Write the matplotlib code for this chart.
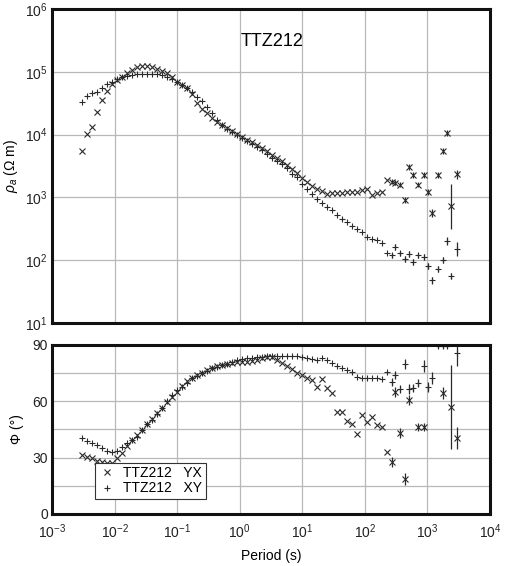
import numpy as np
import matplotlib.pyplot as plt
from matplotlib.ticker import FixedLocator, LogLocator, NullFormatter

plt.rcParams['font.family'] = ['Liberation Sans', 'DejaVu Sans']
plt.rcParams['mathtext.fontset'] = 'custom'
plt.rcParams['mathtext.rm'] = 'Liberation Sans'
plt.rcParams['mathtext.it'] = 'Liberation Sans:italic'

# station TTZ212, log10 period (s) of the densely sampled band
log_period = [-2.52, -2.44, -2.36, -2.28, -2.20, -2.12, -2.04, -1.96, -1.88, -1.80,
              -1.72, -1.64, -1.56, -1.48, -1.40, -1.32, -1.24, -1.16, -1.08, -1.00,
              -0.92, -0.84, -0.76, -0.68, -0.60, -0.52, -0.44, -0.36, -0.28, -0.20,
              -0.12, -0.04, 0.04, 0.12, 0.20, 0.28, 0.36, 0.44, 0.52, 0.60,
              0.68, 0.76, 0.84, 0.92, 1.00, 1.08, 1.16, 1.24, 1.32, 1.40,
              1.48, 1.56, 1.64, 1.72, 1.80, 1.88, 1.96, 2.04, 2.12, 2.20,
              2.28, 2.36]

# log10 apparent resistivity (ohm m)
log_rho_yx = [3.74, 4.01, 4.12, 4.36, 4.55, 4.69, 4.81, 4.87, 4.92, 4.98,
              5.03, 5.08, 5.09, 5.09, 5.08, 5.04, 5.01, 4.98, 4.92, 4.84,
              4.79, 4.74, 4.65, 4.50, 4.41, 4.34, 4.26, 4.20, 4.15, 4.11,
              4.06, 4.01, 3.96, 3.91, 3.88, 3.83, 3.79, 3.74, 3.68, 3.63,
              3.58, 3.52, 3.45, 3.39, 3.31, 3.25, 3.18, 3.13, 3.10, 3.05,
              3.07, 3.07, 3.07, 3.09, 3.09, 3.09, 3.12, 3.13, 3.04, 3.07,
              3.09, 3.28]
log_rho_xy = [4.52, 4.61, 4.66, 4.68, 4.74, 4.81, 4.84, 4.89, 4.92, 4.93,
              4.95, 4.96, 4.96, 4.96, 4.96, 4.96, 4.95, 4.92, 4.89, 4.84,
              4.79, 4.74, 4.68, 4.60, 4.53, 4.44, 4.34, 4.23, 4.15, 4.09,
              4.04, 3.99, 3.95, 3.90, 3.85, 3.80, 3.75, 3.69, 3.63, 3.58,
              3.53, 3.47, 3.38, 3.32, 3.22, 3.13, 3.05, 2.98, 2.91, 2.85,
              2.80, 2.72, 2.66, 2.61, 2.54, 2.50, 2.45, 2.37, 2.34, 2.32,
              2.27, 2.11]

# phase (degrees)
phase_yx = [31.4, 30.4, 29.8, 28.2, 27.7, 27.2, 27.2, 29.8, 32.5, 36.2,
            39.4, 42.1, 44.7, 47.9, 50.6, 53.8, 56.4, 59.6, 62.3, 65.0,
            68.2, 70.8, 72.4, 74.0, 75.1, 76.7, 77.7, 78.8, 79.3,
            79.9, 80.4, 80.9, 80.9, 80.9, 81.5, 82.0, 83.1, 83.6, 83.6,
            82.0, 80.4, 78.8, 77.2, 75.1, 74.0, 72.4, 71.4, 67.6, 71.9,
            67.1, 64.4, 54.3, 54.3, 49.5, 47.9, 42.6, 52.7, 49.0, 51.7,
            47.4, 46.3, 33.0]
phase_xy = [40.5, 38.9, 37.8, 36.7, 35.1, 33.5, 33.0, 33.5, 35.7, 37.8,
            39.4, 41.0, 44.7, 47.9, 50.1, 53.2, 56.4, 60.2, 63.4, 66.0,
            67.6, 69.8, 72.4, 73.5, 75.1, 76.1, 77.7, 78.3, 79.3,
            79.9, 80.9, 82.0, 82.5, 83.1, 83.1, 83.6, 83.6, 84.1, 84.1,
            84.1, 84.1, 84.1, 84.1, 84.1, 83.6, 83.1, 82.5, 82.0, 83.1,
            82.0, 80.4, 78.8, 77.7, 76.7, 75.6, 73.0, 72.4, 72.4, 72.4,
            72.4, 71.9, 75.6]

# long periods: scattered points with error bars
log_period_lp = [2.43, 2.48, 2.56, 2.64, 2.71, 2.77, 2.85, 2.95, 3.01, 3.07,
                 3.17, 3.25, 3.31, 3.38, 3.47]
log_rho_yx_lp = [3.25, 3.23, 3.20, 2.96, 3.48, 3.36, 3.20, 3.36, 3.09, 2.75,
                 3.36, 3.74, 4.03, 2.86, 3.37]
log_rho_yx_lp_err = [0.04, 0.04, 0.04, 0.05, 0.05, 0.05, 0.04, 0.05, 0.05, 0.06,
                     0.05, 0.05, 0.05, 0.36, 0.07]
log_rho_xy_lp = [2.08, 2.21, 2.11, 2.02, 2.10, 1.97, 2.08, 2.05, 1.91, 1.68,
                 1.86, 2.00, 2.31, 1.75, 2.18]
log_rho_xy_lp_err = [0.04, 0.05, 0.04, 0.05, 0.05, 0.05, 0.04, 0.05, 0.05, 0.06,
                     0.05, 0.05, 0.06, 0.05, 0.11]
phase_yx_lp = [27.7, 65.0, 43.1, 18.6, 60.7, np.nan, 46.3, 46.3, np.nan, np.nan,
               np.nan, 64.4, np.nan, 57.0, 40.5]
phase_yx_lp_err = [2.5, 2.5, 2.5, 3.0, 2.5, 0, 2.0, 2.0, 0, 0,
                   0, 3.0, 0, 22.6, 6.0]
phase_xy_lp = [70.3, 74.0, 66.6, 79.9, 66.6, 67.1, 69.8, 78.8, 67.6, 72.4,
               89.5, 89.5, 89.5, np.nan, 85.7]
phase_xy_lp_err = [2.0, 2.0, 2.0, 2.5, 2.5, 2.0, 2.0, 3.0, 2.5, 3.0,
                   1.0, 1.0, 1.0, 0, 7.0]

T = 10 ** np.array(log_period)
T_lp = 10 ** np.array(log_period_lp)

mk = dict(linestyle='none', color='#2a2a2a', markersize=5, markeredgewidth=0.8)
grid_kw = dict(color='#b8b8b8', linewidth=0.9)

fig = plt.figure(figsize=(5.06, 5.66), dpi=100)
ax1 = fig.add_axes([0.1028, 0.4293, 0.8656, 0.5548])
ax2 = fig.add_axes([0.1028, 0.0919, 0.8656, 0.2986])

# resistivity
ax1.plot(T, 10 ** np.array(log_rho_yx), marker='x', **mk)
ax1.plot(T, 10 ** np.array(log_rho_xy), marker='+', **mk)
ax1.plot(T_lp, 10 ** np.array(log_rho_yx_lp), marker='x', **mk)
ax1.plot(T_lp, 10 ** np.array(log_rho_xy_lp), marker='+', **mk)
for lr, e in [(log_rho_yx_lp, log_rho_yx_lp_err), (log_rho_xy_lp, log_rho_xy_lp_err)]:
    lr = np.array(lr)
    e = np.array(e)
    ax1.vlines(T_lp, 10 ** (lr - e), 10 ** (lr + e), color='#2a2a2a', linewidth=0.9)

ax1.set_xscale('log')
ax1.set_yscale('log')
ax1.set_xlim(1e-3, 1e4)
ax1.set_ylim(1e1, 1e6)
ax1.yaxis.set_major_locator(LogLocator(base=10, numticks=10))
ax1.yaxis.set_minor_locator(FixedLocator([]))
ax1.xaxis.set_major_locator(LogLocator(base=10, numticks=12))
ax1.xaxis.set_minor_locator(FixedLocator([]))
ax1.xaxis.set_major_formatter(NullFormatter())
ax1.grid(True, which='major', **grid_kw)
ax1.set_ylabel(r'$\rho_a$ (Ω m)', fontsize=10, labelpad=4)
ax1.text(0.502, 0.898, 'TTZ212', transform=ax1.transAxes, ha='center', va='center',
         fontsize=13)

# phase
ax2.plot(T, phase_yx, marker='x', **mk)
ax2.plot(T, phase_xy, marker='+', **mk)
ax2.plot(T_lp, phase_yx_lp, marker='x', **mk)
ax2.plot(T_lp, phase_xy_lp, marker='+', **mk)
for ph, e in [(phase_yx_lp, phase_yx_lp_err), (phase_xy_lp, phase_xy_lp_err)]:
    ph = np.array(ph)
    e = np.array(e)
    ax2.vlines(T_lp, ph - e, ph + e, color='#2a2a2a', linewidth=0.9)

ax2.set_xscale('log')
ax2.set_xlim(1e-3, 1e4)
ax2.set_ylim(0, 90)
ax2.xaxis.set_major_locator(LogLocator(base=10, numticks=12))
ax2.xaxis.set_minor_locator(FixedLocator([]))
ax2.yaxis.set_major_locator(FixedLocator([0, 30, 60, 90]))
ax2.yaxis.set_minor_locator(FixedLocator([15, 45, 75]))
ax2.grid(True, which='both', axis='y', **grid_kw)
ax2.grid(True, which='major', axis='x', **grid_kw)
ax2.set_ylabel('Φ (°)', fontsize=10, labelpad=6)
ax2.set_xlabel('Period (s)', fontsize=10, labelpad=6)

leg_yx, = ax2.plot([], [], marker='x', **mk)
leg_xy, = ax2.plot([], [], marker='+', **mk)
leg = ax2.legend([leg_yx, leg_xy], ['TTZ212   YX', 'TTZ212   XY'],
                 loc='lower left', bbox_to_anchor=(0.098, 0.089), borderaxespad=0,
                 fontsize=10, fancybox=False, framealpha=1, edgecolor='#333333',
                 handlelength=1.2, handletextpad=0.6, borderpad=0.25, labelspacing=0.1)
leg.get_frame().set_linewidth(0.8)

for ax in (ax1, ax2):
    ax.set_axisbelow(True)
    for s in ax.spines.values():
        s.set_linewidth(2.2)
        s.set_color('#111111')
    ax.tick_params(which='both', length=0, labelsize=10, pad=3, colors='#222222')
ax2.tick_params(axis='x', pad=6)

fig.savefig('out.png', dpi=100)
